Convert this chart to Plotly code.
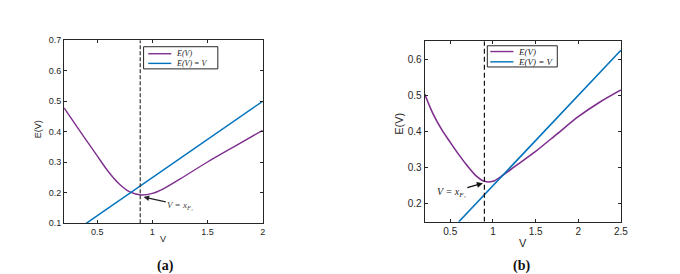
import plotly.graph_objects as go

# ---------------- data ----------------
# panel (a)
a_V = [0.2, 0.3, 0.4, 0.5, 0.6, 0.7, 0.8, 0.9, 1.0, 1.1, 1.25, 1.5, 1.75, 2.0]
a_E = [0.478, 0.425, 0.373, 0.321, 0.270, 0.229, 0.202, 0.193, 0.198, 0.213, 0.245, 0.301, 0.353, 0.405]
a_line_V = [0.4, 2.0]
a_line_E = [0.1, 0.5]
a_xF1 = 0.89
a_xticks = [0.5, 1, 1.5, 2]
a_yticks = [0.1, 0.2, 0.3, 0.4, 0.5, 0.6, 0.7]

# panel (b)
b_V = [0.2, 0.3, 0.4, 0.5, 0.6, 0.7, 0.8, 0.9, 1.0, 1.1, 1.25, 1.5, 1.75, 2.0, 2.25, 2.5]
b_E = [0.504, 0.448, 0.405, 0.370, 0.336, 0.305, 0.278, 0.262, 0.262, 0.276, 0.302, 0.345, 0.393, 0.441, 0.481, 0.515]
b_line_V = [0.6, 2.5]
b_line_E = [0.15, 0.625]
b_xF1 = 0.9
b_xticks = [0.5, 1, 1.5, 2, 2.5]
b_yticks = [0.2, 0.3, 0.4, 0.5, 0.6]

legend_labels = ["E(V)", "E(V) = V"]
annot_text = "V = x<sub>F₁</sub>"
panel_labels = ["(a)", "(b)"]
x_title = "V"
y_title = "E(V)"

PURPLE = "#7E2F8E"
BLUE = "#0072BD"
AX = "#262626"
W, H = 680, 274
SERIF = "Liberation Serif, Times New Roman"
SANS = "Liberation Sans, Arial"


def px(x):
    return x / W


def py(y):
    return 1 - y / H


fig = go.Figure()

# panel (a) traces
fig.add_trace(go.Scatter(x=a_V, y=a_E, mode="lines",
                         line=dict(color=PURPLE, width=1.4, shape="spline", smoothing=0.8),
                         xaxis="x", yaxis="y", showlegend=False))
fig.add_trace(go.Scatter(x=a_line_V, y=a_line_E, mode="lines", line=dict(color=BLUE, width=1.4),
                         xaxis="x", yaxis="y", showlegend=False))
fig.add_trace(go.Scatter(x=[a_xF1, a_xF1], y=[a_yticks[0], a_yticks[-1]], mode="lines",
                         line=dict(color="#333333", width=1.2, dash="4px,2px"),
                         xaxis="x", yaxis="y", showlegend=False))

# panel (b) traces
fig.add_trace(go.Scatter(x=b_V, y=b_E, mode="lines",
                         line=dict(color=PURPLE, width=1.6, shape="spline", smoothing=0.8),
                         xaxis="x2", yaxis="y2", showlegend=False))
fig.add_trace(go.Scatter(x=b_line_V, y=b_line_E, mode="lines", line=dict(color=BLUE, width=1.6),
                         xaxis="x2", yaxis="y2", showlegend=False))
fig.add_trace(go.Scatter(x=[b_xF1, b_xF1], y=[0.15, 0.65], mode="lines",
                         line=dict(color="#111111", width=1.2, dash="5px,3px"),
                         xaxis="x2", yaxis="y2", showlegend=False))


def axis(domain, rng, ticks, size, anchor):
    return dict(domain=domain, range=rng, tickvals=ticks, showline=True, linecolor=AX, linewidth=1,
                mirror="ticks", ticks="inside", ticklen=3, tickcolor=AX, showgrid=False, zeroline=False,
                tickfont=dict(family=SANS, size=size, color=AX),
                anchor=anchor, fixedrange=True)


fig.update_layout(
    width=W, height=H, margin=dict(l=0, r=0, t=0, b=0),
    paper_bgcolor="white", plot_bgcolor="white",
    xaxis=axis([px(56.7), px(257.3)], [0.2, 2.0], a_xticks, 9, "y"),
    yaxis=axis([py(218.3), py(28.3)], [0.1, 0.7], a_yticks, 9, "x"),
    xaxis2=axis([px(421), px(619.3)], [0.2, 2.5], b_xticks, 10, "y2"),
    yaxis2=axis([py(216.7), py(29.3)], [0.15, 0.65], b_yticks, 10, "x2"),
)

shapes = []
annotations = []


def legend(x0, x1, y0, y1, lx0, lx1, ly, tx, fsize):
    shapes.append(dict(type="rect", xref="paper", yref="paper", x0=px(x0), x1=px(x1), y0=py(y1), y1=py(y0),
                       line=dict(color=AX, width=1), fillcolor="white", layer="above"))
    for yy, col, lab in zip(ly, [PURPLE, BLUE], legend_labels):
        shapes.append(dict(type="line", xref="paper", yref="paper", x0=px(lx0), x1=px(lx1), y0=py(yy), y1=py(yy),
                           line=dict(color=col, width=1.4), layer="above"))
        annotations.append(dict(xref="paper", yref="paper", x=px(tx), y=py(yy), text=lab, showarrow=False,
                                xanchor="left", yanchor="middle",
                                font=dict(family=SERIF, size=fsize, color="#222222", style="italic")))


legend(137, 212, 35, 58, 141.7, 165, [42.3, 52.3], 167.5, 8)
legend(484.3, 555, 34, 56, 487.3, 510.7, [40, 50.7], 513, 9)

# axis titles
for (xx, yy, ang, txt, fs) in [(157, 235, 0, x_title, 9), (30, 121, -90, y_title, 9),
                               (520, 239, 0, x_title, 11), (395, 115, -90, y_title, 11)]:
    annotations.append(dict(xref="paper", yref="paper", x=px(xx), y=py(yy), text=txt, textangle=ang,
                            showarrow=False, xanchor="center", yanchor="middle",
                            font=dict(family=SANS, size=fs, color=AX)))

# arrow annotations
annotations.append(dict(x=0.921, y=0.186, xref="x", yref="y", ax=1.253, ay=0.160, axref="x", ayref="y",
                        text=annot_text, showarrow=True, arrowhead=2, arrowsize=1, arrowwidth=1.1,
                        arrowcolor="#222222", standoff=0,
                        font=dict(family=SERIF, size=9, color="#444444", style="italic")))
annotations.append(dict(x=0.882, y=0.257, xref="x2", yref="y2", ax=0.512, ay=0.232, axref="x2", ayref="y2",
                        text=annot_text, showarrow=True, arrowhead=2, arrowsize=1, arrowwidth=1.2,
                        arrowcolor="#111111", standoff=0,
                        font=dict(family=SERIF, size=10, color="#222222", style="italic")))

# panel labels
for xx, lab in zip([159, 518.5], panel_labels):
    annotations.append(dict(xref="paper", yref="paper", x=px(xx), y=py(263), text=lab,
                            showarrow=False, xanchor="center", yanchor="middle",
                            font=dict(family=SERIF, size=14, color="#111111", weight="bold")))

fig.update_layout(shapes=shapes, annotations=annotations)
fig.write_html("out.html")
